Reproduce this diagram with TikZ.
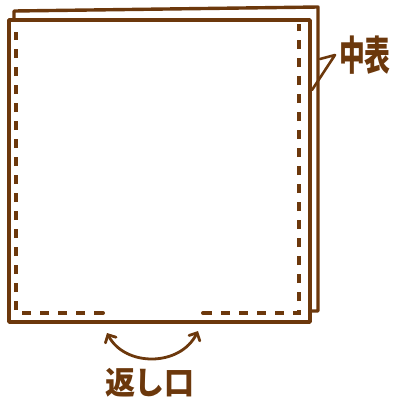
\documentclass[tikz,border=0pt]{standalone}
\usepackage{fontspec}
\newfontfamily\jp{Noto Sans CJK JP}
\usetikzlibrary{arrows.meta}
\definecolor{ink}{RGB}{108,56,12}
\tikzset{
  edge/.style={draw=ink, line width=3.4pt, line join=round},
  stitch/.style={draw=ink, line width=3.2pt, dash pattern=on 9pt off 9pt},
  leader/.style={draw=ink, line width=2.6pt, line join=round, line cap=round},
  turn/.style={draw=ink, line width=2.8pt, line cap=round, {Straight Barb[length=6pt,width=12pt,line cap=round]}-{Straight Barb[length=6pt,width=12pt,line cap=round]}},
  label/.style={text=ink, inner sep=0pt, font=\jp\bfseries\fontsize{30}{30}\selectfont}
}
\begin{document}
\begin{tikzpicture}[x=1pt,y=-1pt]
\useasboundingbox (0,0) rectangle (394,400);
% back layer
\draw[edge] (310,311) -- (318,311) -- (318,7) -- (14,11) -- (14,20);
% front layer
\draw[edge] (9,20) rectangle (310,322);
% stitching
\coordinate (sa) at (103,313);
\coordinate (sb) at (203,313);
\draw[stitch] (sa) -- (16,313) -- (16,32);
\draw[stitch] (sb) -- (299,313) -- (299,24);
\fill[ink] (sa) circle (2pt);
\fill[ink] (sb) circle (2pt);
% leader to label
\node[label, xscale=0.86, yscale=1.35, transform shape, anchor=west] (nk) at (339,55) {中表};
\coordinate (l1) at (320,59);
\coordinate (l2) at (335,55);
\coordinate (l3) at (312,90);
\draw[leader] (l1) -- (l2) -- (l3);
% opening arrow
\coordinate (a1) at (107,333);
\coordinate (a2) at (198,331);
\draw[turn] (a1) .. controls (125,367) and (180,367) .. (a2);
\node[label, yscale=1.05, transform shape] (kg) at (150,383) {返し口};
\end{tikzpicture}
\end{document}
